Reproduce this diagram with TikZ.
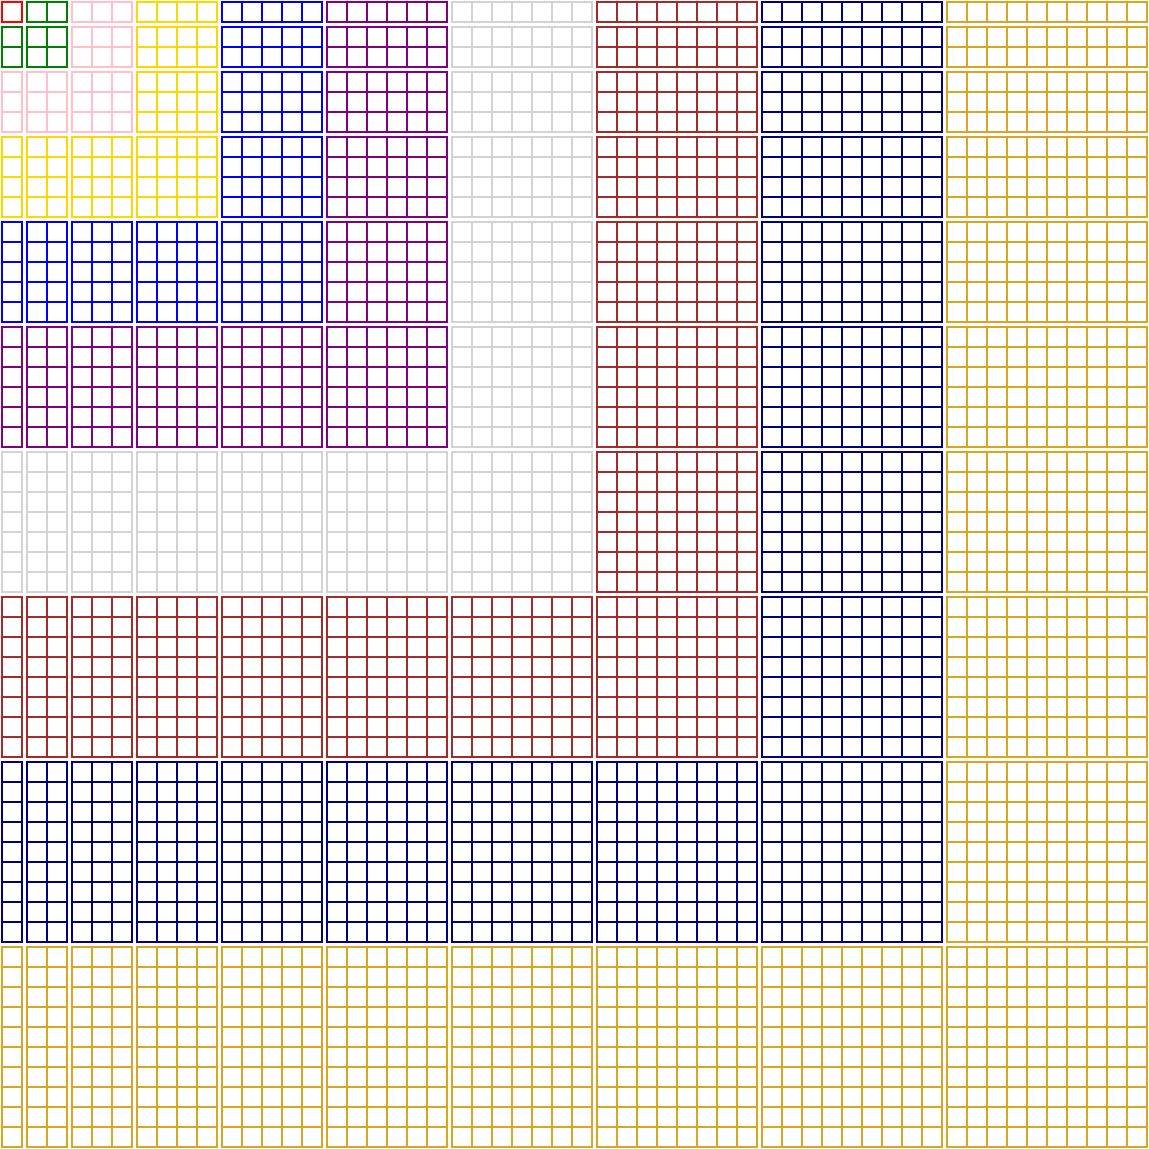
\documentclass[tikz,border=0pt]{standalone}
\usepackage{tikz}

% block colours, by the larger factor
\definecolor{c1}{RGB}{255,0,0}
\definecolor{c2}{RGB}{0,128,0}
\definecolor{c3}{RGB}{255,192,203}
\definecolor{c4}{RGB}{255,215,0}
\definecolor{c5}{RGB}{0,0,255}
\definecolor{c6}{RGB}{128,0,128}
\definecolor{c7}{RGB}{211,211,211}
\definecolor{c8}{RGB}{165,42,42}
\definecolor{c9}{RGB}{0,0,128}
\definecolor{c10}{RGB}{218,165,32}

\begin{document}
\begin{tikzpicture}[x=0.5cm, y=0.5cm,
   cellgrid/.style={line width=0.06cm, line cap=rect}
]
\useasboundingbox (0,0) rectangle (57.45,57.45);

% Blocks
\foreach \i in {1,...,10}{
  \foreach \j in {1,...,10}{
    \pgfmathtruncatemacro\m{max(\i,\j)}
    \pgfmathsetmacro\xa{0.1+(\i-1)*\i/2+0.25*(\i-1)}
    \pgfmathsetmacro\ya{57.35-(\j-1)*\j/2-0.25*(\j-1)-\j}
    \begin{scope}[shift={(\xa,\ya)}, cellgrid, color=c\m]
      \foreach \k in {0,...,\i} \draw (\k,0) -- (\k,\j);
      \foreach \k in {0,...,\j} \draw (0,\k) -- (\i,\k);
    \end{scope}
  }
}

\end{tikzpicture}
\end{document}
